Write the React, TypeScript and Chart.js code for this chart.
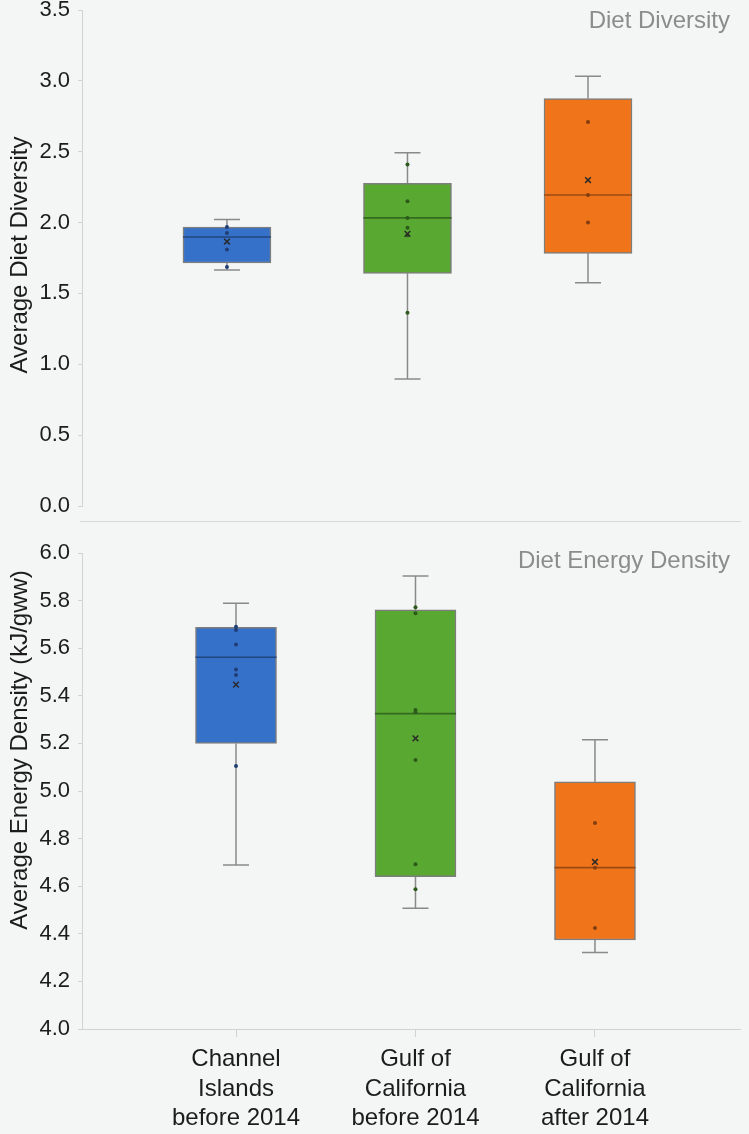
import React, { useEffect, useRef } from "react";
import { Chart, registerables } from "chart.js";

Chart.register(...registerables);
Chart.defaults.font.family = '"Liberation Sans", Arial, Helvetica, sans-serif';

// Site groups, placed at positions 1..3 on a linear x scale
const categories = [
  ["Channel", "Islands", "before 2014"],
  ["Gulf of", "California", "before 2014"],
  ["Gulf of", "California", "after 2014"],
];
const groupPositions = [1, 2, 3];

const boxFills = ["#3571c9", "#59a832", "#f07419"];
const medianColors = ["#22467f", "#356a1f", "#9a4b14"];
const pointColors = ["#1f3f74", "#2c5a1b", "#833d10"];

// Average diet diversity
const diversityLow = [1.665, 0.897, 1.576];
const diversityQ1 = [1.715, 1.642, 1.783];
const diversityMedian = [1.898, 2.033, 2.195];
const diversityQ3 = [1.968, 2.277, 2.875];
const diversityHigh = [2.022, 2.493, 3.032];
const diversityMean = [1.866, 1.92, 2.3];
const diversityPoints = [
  [1.969, 1.927, 1.81, 1.687],
  [2.41, 2.15, 2.033, 1.964, 1.91, 1.364],
  [2.71, 2.195, 2.0],
];
const diversityTicks = [0, 3.5, 0.5];

// Average energy density (kJ/gww)
const energyLow = [4.689, 4.507, 4.321];
const energyQ1 = [5.2, 4.64, 4.374];
const energyMedian = [5.562, 5.325, 4.678];
const energyQ3 = [5.688, 5.761, 5.039];
const energyHigh = [5.789, 5.903, 5.215];
const energyMean = [5.447, 5.221, 4.702];
const energyPoints = [
  [5.69, 5.676, 5.616, 5.511, 5.487, 5.105],
  [5.772, 5.747, 5.34, 5.331, 5.13, 4.692, 4.587],
  [4.866, 4.678, 4.424],
];
const energyTicks = [4.0, 6.0, 0.2];

type PanelSpec = {
  low: number[];
  q1: number[];
  median: number[];
  q3: number[];
  high: number[];
  mean: number[];
  points: number[][];
  ticks: number[];
  xRange: number[];
  boxWidth: number;
  corner: string;
  cornerDy: number;
  caption: string;
  captionShift: number;
  showCategories: boolean;
  pad: { top: number; bottom: number };
  height: number;
  top: number;
};

const AXIS_COLOR = "#d2d2d2";
const TEXT_COLOR = "#1c1c1c";

function makePlugins(spec: PanelSpec) {
  const boxWhisker = {
    id: "boxWhisker",
    beforeDatasetsDraw(chart: any) {
      const y = chart.scales.y;
      const bars = chart.getDatasetMeta(0).data;
      const ctx = chart.ctx;
      ctx.save();
      ctx.strokeStyle = "#8a8a8a";
      ctx.lineWidth = 1.5;
      bars.forEach((bar: any, i: number) => {
        const x = bar.x;
        const cap = 13;
        const yHigh = y.getPixelForValue(spec.high[i]);
        const yLow = y.getPixelForValue(spec.low[i]);
        ctx.beginPath();
        ctx.moveTo(x, y.getPixelForValue(spec.q3[i]));
        ctx.lineTo(x, yHigh);
        ctx.moveTo(x - cap, yHigh);
        ctx.lineTo(x + cap, yHigh);
        ctx.moveTo(x, y.getPixelForValue(spec.q1[i]));
        ctx.lineTo(x, yLow);
        ctx.moveTo(x - cap, yLow);
        ctx.lineTo(x + cap, yLow);
        ctx.stroke();
      });
      ctx.restore();
    },
    afterDatasetDraw(chart: any, args: any) {
      if (args.index !== 0) return;
      const y = chart.scales.y;
      const ctx = chart.ctx;
      ctx.save();
      ctx.lineWidth = 1.6;
      args.meta.data.forEach((bar: any, i: number) => {
        const ym = y.getPixelForValue(spec.median[i]);
        ctx.strokeStyle = medianColors[i];
        ctx.beginPath();
        ctx.moveTo(bar.x - bar.width / 2, ym);
        ctx.lineTo(bar.x + bar.width / 2, ym);
        ctx.stroke();
      });
      ctx.restore();
    },
  };

  const captions = {
    id: "captions",
    afterDraw(chart: any) {
      const { ctx, chartArea } = chart;
      ctx.save();
      ctx.font = '24px "Liberation Sans", Arial, sans-serif';
      ctx.fillStyle = "#8c8c8c";
      ctx.textAlign = "right";
      ctx.textBaseline = "middle";
      ctx.fillText(spec.corner, chartArea.right - 10, chartArea.top + spec.cornerDy);

      ctx.fillStyle = TEXT_COLOR;
      ctx.textAlign = "center";
      const cy = (chartArea.top + chartArea.bottom) / 2 + spec.captionShift;
      ctx.translate(20, cy);
      ctx.rotate(-Math.PI / 2);
      ctx.fillText(spec.caption, 0, 0);
      ctx.restore();
    },
  };
  return [boxWhisker, captions];
}

function buildConfig(spec: PanelSpec): any {
  const boxes = groupPositions.map((x, i) => ({ x, y: [spec.q1[i], spec.q3[i]] }));
  const dots: { x: number; y: number }[] = [];
  const dotColors: string[] = [];
  spec.points.forEach((list, i) =>
    list.forEach((v) => {
      dots.push({ x: groupPositions[i], y: v });
      dotColors.push(pointColors[i]);
    })
  );
  const means = groupPositions.map((x, i) => ({ x, y: spec.mean[i] }));
  const [yMin, yMax, yStep] = spec.ticks;

  return {
    type: "bar",
    data: {
      datasets: [
        {
          type: "bar",
          data: boxes,
          backgroundColor: boxFills,
          borderColor: "#7d7d7d",
          borderWidth: 1.5,
          borderSkipped: false,
          barThickness: spec.boxWidth,
          grouped: false,
          order: 3,
        },
        {
          type: "line",
          data: dots,
          showLine: false,
          pointRadius: 2,
          pointBorderWidth: 0,
          pointBackgroundColor: dotColors,
          order: 1,
        },
        {
          type: "line",
          data: means,
          showLine: false,
          pointStyle: "crossRot",
          pointRadius: 4,
          pointBorderWidth: 1.5,
          pointBorderColor: "#2a2a2a",
          order: 0,
        },
      ],
    },
    options: {
      responsive: false,
      animation: false,
      events: [],
      layout: { padding: { top: spec.pad.top, bottom: spec.pad.bottom, left: 0, right: 9 } },
      plugins: { legend: { display: false }, tooltip: { enabled: false } },
      scales: {
        x: {
          type: "linear",
          min: spec.xRange[0],
          max: spec.xRange[1],
          offset: false,
          display: spec.showCategories,
          afterBuildTicks: (s: any) => {
            s.ticks = groupPositions.map((value) => ({ value }));
          },
          afterFit: (s: any) => {
            s.height = spec.showCategories ? 105 : 0;
          },
          ticks: {
            autoSkip: false,
            maxRotation: 0,
            padding: 8,
            color: TEXT_COLOR,
            font: { size: 24, lineHeight: 1.23 },
            callback: (v: number) => categories[groupPositions.indexOf(v)] ?? "",
          },
          grid: {
            offset: false,
            drawOnChartArea: false,
            drawTicks: true,
            tickLength: 8,
            color: AXIS_COLOR,
          },
          border: { display: true, color: AXIS_COLOR, width: 1 },
        },
        y: {
          type: "linear",
          min: yMin,
          max: yMax,
          afterFit: (s: any) => {
            s.width = 82;
          },
          ticks: {
            stepSize: yStep,
            padding: 8,
            color: TEXT_COLOR,
            // single-line labels: a tiny line height keeps the end labels from padding the plot area
            font: { size: 22, lineHeight: 0.15 },
            callback: (v: number) => v.toFixed(1),
          },
          grid: { drawOnChartArea: false, drawTicks: true, tickLength: 4, color: AXIS_COLOR },
          border: { display: true, color: AXIS_COLOR, width: 1 },
        },
      },
    },
    plugins: makePlugins(spec),
  };
}

const diversityPanel: PanelSpec = {
  low: diversityLow,
  q1: diversityQ1,
  median: diversityMedian,
  q3: diversityQ3,
  high: diversityHigh,
  mean: diversityMean,
  points: diversityPoints,
  ticks: diversityTicks,
  xRange: [0.197, 3.842],
  boxWidth: 88,
  corner: "Diet Diversity",
  cornerDy: 11,
  caption: "Average Diet Diversity",
  captionShift: -3,
  showCategories: false,
  pad: { top: 10, bottom: 16 },
  height: 522,
  top: 0,
};

const energyPanel: PanelSpec = {
  low: energyLow,
  q1: energyQ1,
  median: energyMedian,
  q3: energyQ3,
  high: energyHigh,
  mean: energyMean,
  points: energyPoints,
  ticks: energyTicks,
  xRange: [0.142, 3.808],
  boxWidth: 81,
  corner: "Diet Energy Density",
  cornerDy: 8,
  caption: "Average Energy Density (kJ/gww)",
  captionShift: -41,
  showCategories: true,
  pad: { top: 23, bottom: 0 },
  height: 604,
  top: 530,
};

function BoxPanel({ spec }: { spec: PanelSpec }) {
  const ref = useRef<HTMLCanvasElement>(null);
  useEffect(() => {
    const chart = new Chart(ref.current as HTMLCanvasElement, buildConfig(spec));
    return () => chart.destroy();
  }, [spec]);
  return (
    <canvas
      ref={ref}
      width={749}
      height={spec.height}
      style={{ position: "absolute", left: 0, top: spec.top, width: 749, height: spec.height }}
    />
  );
}

export default function App() {
  return (
    <div
      style={{
        position: "absolute",
        left: 0,
        top: 0,
        width: 749,
        height: 1134,
        background: "#f4f5f5",
        overflow: "hidden",
      }}
    >
      <BoxPanel spec={diversityPanel} />
      <div
        style={{
          position: "absolute",
          left: 80,
          top: 521,
          width: 661,
          height: 1,
          background: "#d8d8d8",
        }}
      />
      <BoxPanel spec={energyPanel} />
    </div>
  );
}
